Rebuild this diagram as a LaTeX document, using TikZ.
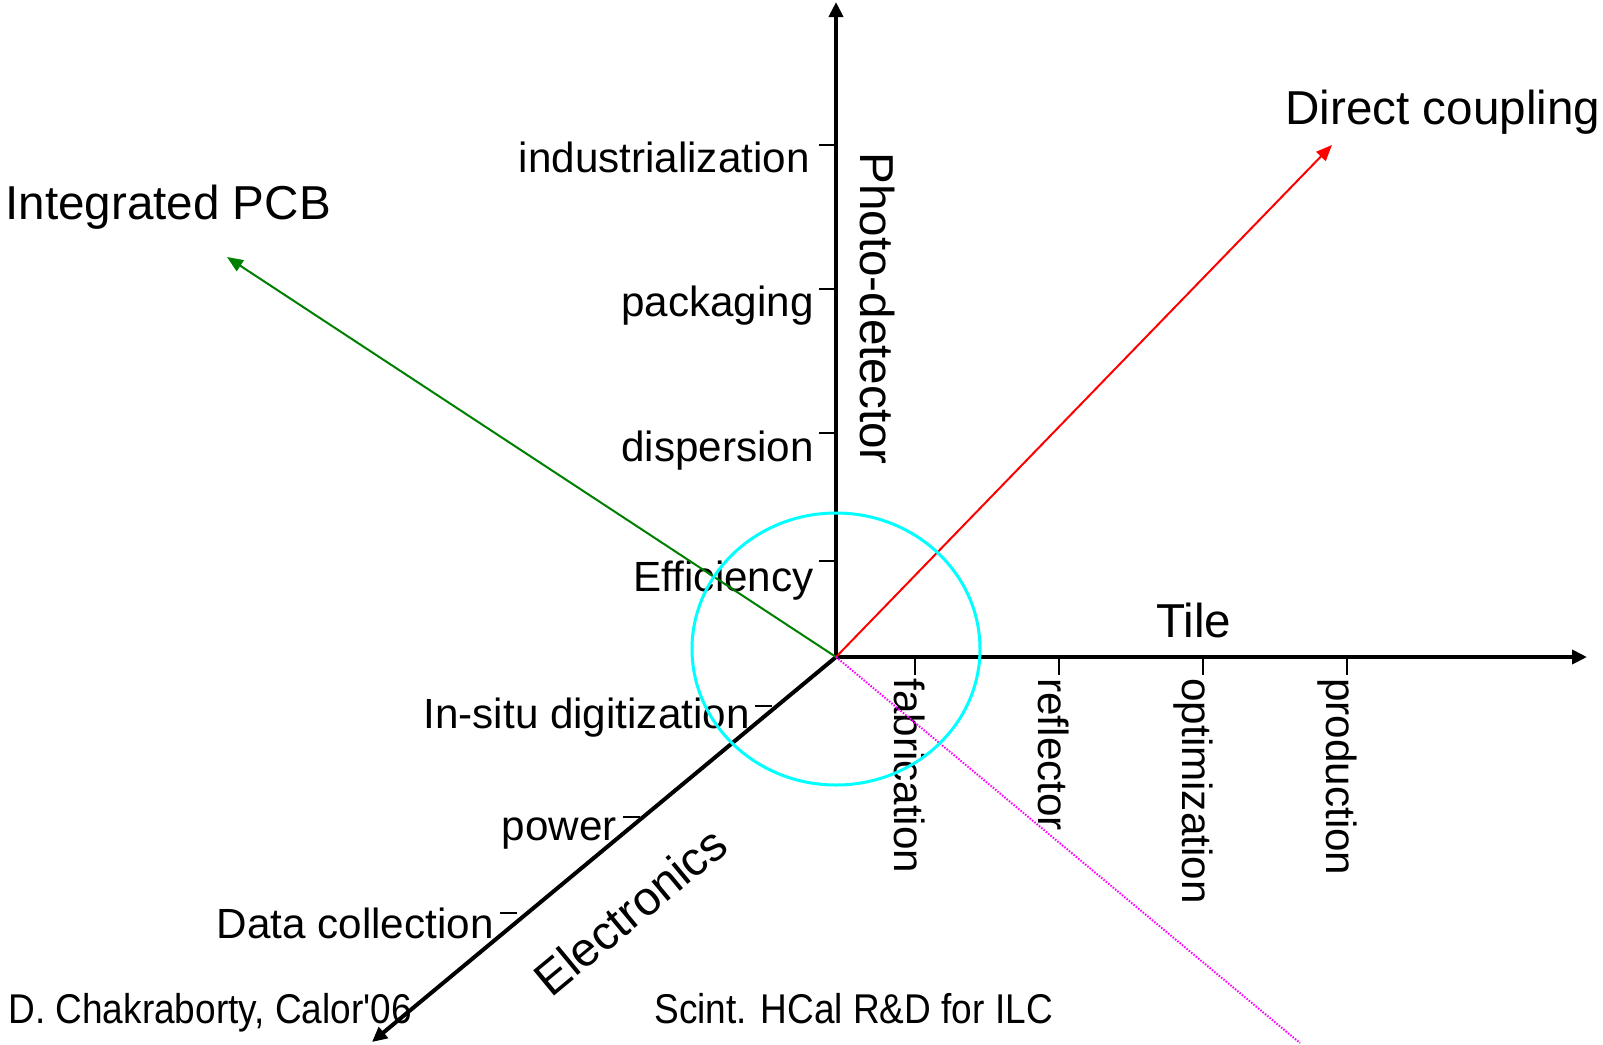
\documentclass[tikz,border=0pt]{standalone}
\usepackage{fontspec}
\setmainfont{Liberation Sans}
\usetikzlibrary{arrows.meta,positioning}

\definecolor{ringcol}{RGB}{0,255,255}
\definecolor{restcol}{RGB}{255,0,255}
\definecolor{dccol}{RGB}{255,0,0}
\definecolor{pcbcol}{RGB}{0,128,0}

\begin{document}
\begin{tikzpicture}[x=0.5pt, y=-0.5pt]

\tikzstyle{axis} = [line width=2pt, -{Triangle[length=7.5pt,width=7pt]}]
\tikzstyle{ray} = [line width=1pt, -{Triangle[length=8pt,width=6.5pt]}]
\tikzstyle{tick} = [line width=0.7pt]
\tikzstyle{axislabel} = [inner sep=0, font=\fontsize{23.8}{28}\selectfont]
\tikzstyle{steplabel} = [inner sep=0, font=\fontsize{21.1}{25}\selectfont]
\tikzstyle{footer} = [inner sep=0, xscale=0.89, font=\fontsize{20.8}{25}\selectfont]

\useasboundingbox (0,0) rectangle (1603,1045);

% origin and axis ends
\coordinate (o) at (836,657);
\coordinate (pdtip) at (836,2);
\coordinate (tiletip) at (1587,657);
\coordinate (eltip) at (372,1042);
\coordinate (dctip) at (1332,145);
\coordinate (pcbtip) at (227,257);
\coordinate (rest) at (1300,1043);

% axis names
\node[axislabel, anchor=base west] (dc) at (1285,124) {Direct coupling};
\node[axislabel, anchor=base west] (pcb) at (5,219) {Integrated PCB};
\node[axislabel, anchor=base] (tile) at (1194,637) {Tile};
\node[axislabel, rotate=-90, anchor=base west] (pd) at (860,152) {Photo-detector};
\node[axislabel, rotate=39.6, anchor=base] (el) at (641,924) {Electronics};

% photo-detector steps
\node[steplabel, anchor=base east] (indus) at (810,172) {industrialization};
\node[steplabel, anchor=base east] (pack) at (814,316) {packaging};
\node[steplabel, anchor=base east] (disp) at (814,461) {dispersion};
\node[steplabel, anchor=base east] (eff) at (814,591) {Efficiency};
\draw[tick] (836,145) -- ++(-17,0);
\draw[tick] (836,289) -- ++(-17,0);
\draw[tick] (836,433) -- ++(-17,0);
\draw[tick] (836,561) -- ++(-17,0);

% tile steps
\node[steplabel, rotate=-90, anchor=base west] (fab) at (894,678) {fabrication};
\node[steplabel, rotate=-90, anchor=base west] (refl) at (1038,678) {reflector};
\node[steplabel, rotate=-90, anchor=base west] (optim) at (1182,678) {optimization};
\node[steplabel, rotate=-90, anchor=base west] (prod) at (1326,678) {production};
\draw[tick] (915,657) -- ++(0,18);
\draw[tick] (1059,657) -- ++(0,18);
\draw[tick] (1203,657) -- ++(0,18);
\draw[tick] (1347,657) -- ++(0,18);

% electronics steps
\node[steplabel, anchor=base east] (insitu) at (750,728) {In-situ digitization};
\node[steplabel, anchor=base east] (power) at (617,840) {power};
\node[steplabel, anchor=base east] (daq) at (494,938) {Data collection};
\draw[tick] (755,706) -- ++(17,0);
\draw[tick] (623,817) -- ++(17,0);
\draw[tick] (500,913) -- ++(17,0);

% footer
\node[footer, anchor=base west] (auth) at (8,1023) {D. Chakraborty, Calor\textquotesingle 06};
\node[footer, anchor=base west] (title) at (654,1023) {Scint. HCal R\&D for ILC};

% axes and directions
\draw[axis] (o) -- (pdtip);
\draw[axis] (o) -- (tiletip);
\draw[axis] (o) -- (eltip);
\draw[ray, dccol] (o) -- (dctip);
\draw[ray, pcbcol] (o) -- (pcbtip);
\draw[restcol, line width=1pt, dash pattern=on 0.75pt off 0.75pt] (o) -- (rest);

\draw[ringcol, line width=1.5pt] (836,649) ellipse [x radius=144, y radius=136];

\end{tikzpicture}
\end{document}
